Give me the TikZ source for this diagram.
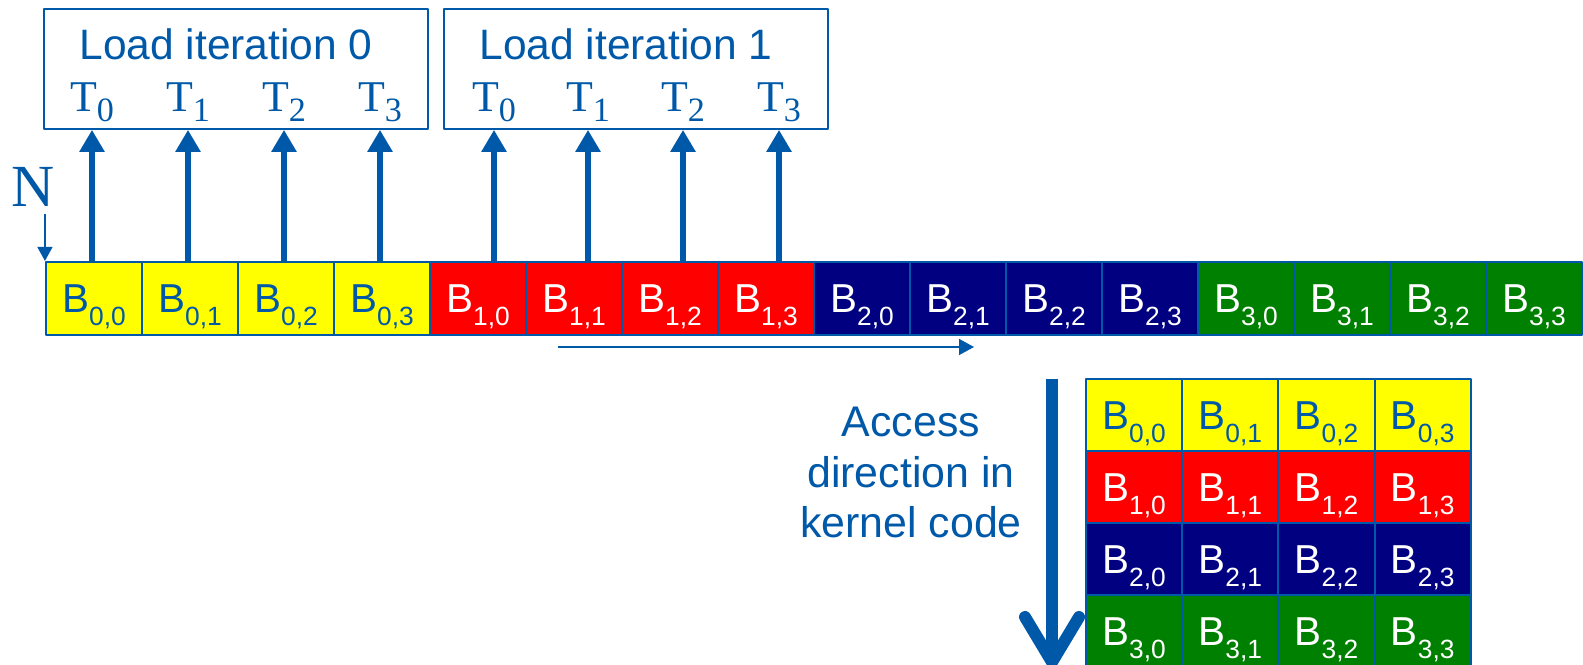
\documentclass[tikz,border=0pt]{standalone}
\usepackage{fontspec}
\setmainfont{Liberation Sans}
\newfontfamily\serifT{Liberation Serif}
\usetikzlibrary{arrows.meta}
\definecolor{qqzzaa}{rgb}{0,0.35,0.66}
\definecolor{ffffqq}{rgb}{1,1,0}
\definecolor{ffqqqq}{rgb}{1,0,0}
\definecolor{qqqqcc}{rgb}{0,0,0.5}
\definecolor{qqcbqq}{rgb}{0,0.5,0}
\newcommand{\blk}[2]{B\raisebox{-0.13cm}{\fontsize{7.5}{7.5}\selectfont #1,#2}}
\newcommand{\thr}[1]{{\serifT T\raisebox{-0.1cm}{\fontsize{9.7}{9.7}\selectfont #1}}}

\begin{document}
\begin{tikzpicture}[line cap=round,line join=round,x=1.0cm,y=1.0cm,
  cell/.style={draw=qqzzaa,line width=0.6pt,minimum width=0.96cm,minimum height=0.73cm,inner sep=0pt,text height=0.29cm,text depth=0pt,font=\fontsize{11.5}{13}\selectfont},
  loadbox/.style={draw=qqzzaa,line width=0.5pt,minimum width=3.84cm,minimum height=1.2cm},
  loadtxt/.style={text=qqzzaa,anchor=base,inner sep=0pt,font=\fontsize{12.1}{14}\selectfont},
  thrd/.style={text=qqzzaa,anchor=base,inner sep=0pt,font=\fontsize{12.5}{14}\selectfont},
  uparrow/.style={-{Triangle[length=0.22cm,width=0.24cm]},line width=1.6pt,line cap=butt,color=qqzzaa}]
      \useasboundingbox (0,0) rectangle (15.83,6.65);
      % row of blocks
      \foreach \rw/\fc/\tc in {0/ffffqq/qqzzaa,1/ffqqqq/white,2/qqqqcc/white,3/qqcbqq/white}
      \foreach \cl in {0,...,3}
      \node[cell,fill=\fc,text=\tc] (s\rw\cl) at ({0.94+0.96*(4*\rw+\cl)},3.665) {\blk{\rw}{\cl}};
      % the two load iterations
      \node[loadbox] (it0) at (2.36,5.96) {};
      \node[loadbox] (it1) at (6.36,5.96) {};
      \node[loadtxt] (lt0) at (2.26,6.05) {Load iteration 0};
      \node[loadtxt] (lt1) at (6.26,6.05) {Load iteration 1};
      \foreach \x [count=\i from 0] in {0.92,1.88,2.84,3.80}
      {
      \node[thrd] (ta\i) at (\x,5.53) {\thr{\i}};
      \draw[uparrow] (ta\i |- s0\i.north) -- (ta\i |- it0.south);
      }
      \foreach \x [count=\i from 0] in {4.94,5.88,6.83,7.79}
      {
      \node[thrd] (tb\i) at (\x,5.53) {\thr{\i}};
      \draw[uparrow] (tb\i |- s1\i.north) -- (tb\i |- it1.south);
      }
      % N
      \node[text=qqzzaa,anchor=base,inner sep=0pt,font=\serifT\fontsize{17}{17}\selectfont] (nlab) at (0.33,4.58) {N};
      \draw[-{Triangle[length=0.14cm,width=0.15cm]},line width=0.45pt,line cap=butt,color=qqzzaa] ([yshift=-0.06cm]s00.north west |- nlab.south) -- (s00.north west);
      % access direction along the row
      \coordinate (a0) at (5.58,3.18);
      \coordinate (a1) at (9.74,3.18);
      \draw[-{Triangle[length=0.15cm,width=0.16cm]},line width=0.45pt,line cap=butt,color=qqzzaa] (a0) -- (a1);
      % matrix
      \foreach \rw/\fc/\tc in {0/ffffqq/qqzzaa,1/ffqqqq/white,2/qqqqcc/white,3/qqcbqq/white}
      \foreach \cl in {0,...,3}
      \node[cell,minimum width=0.9625cm,minimum height=0.72cm,fill=\fc,text=\tc] (m\rw\cl) at ({11.34+0.9625*\cl},{2.50-0.72*\rw}) {\blk{\rw}{\cl}};
      \node[text=qqzzaa,align=center,inner sep=0pt,font=\fontsize{12.2}{14.4}\selectfont] (acc) at (9.11,1.925) {Access\\direction in\\kernel code};
      \coordinate (d0) at (10.52,2.86);
      \coordinate (d1) at (10.52,-0.03);
      \draw[-{Straight Barb[length=0.45cm,width=0.54cm,round]},line width=3.4pt,line cap=butt,color=qqzzaa] (d0) -- (d1);
    \end{tikzpicture}
\end{document}
